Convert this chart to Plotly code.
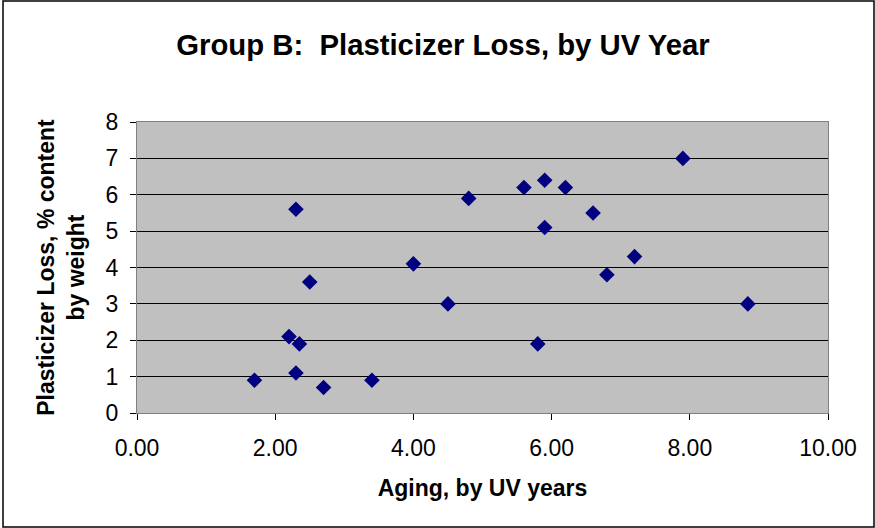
import plotly.graph_objects as go

# Data
aging_years = [1.7, 2.2, 2.3, 2.3, 2.35, 2.5, 2.7, 3.4, 4.0, 4.5, 4.8,
               5.6, 5.8, 5.9, 5.9, 6.2, 6.6, 6.8, 7.2, 7.9, 8.84]
plasticizer_loss = [0.9, 2.1, 5.6, 1.1, 1.9, 3.6, 0.7, 0.9, 4.1, 3.0, 5.9,
                    6.2, 1.9, 6.4, 5.1, 6.2, 5.5, 3.8, 4.3, 7.0, 3.0]

x_ticks = [0, 2, 4, 6, 8, 10]
y_ticks = [0, 1, 2, 3, 4, 5, 6, 7, 8]

W, H = 875, 528
ML, MR, MT, MB = 137, 47, 122, 115
pw, ph = W - ML - MR, H - MT - MB

fig = go.Figure()
fig.add_trace(go.Scatter(
    x=aging_years, y=plasticizer_loss, mode="markers",
    marker=dict(symbol="diamond", size=12, color="#000080",
                line=dict(width=0)),
    showlegend=False,
))

font_family = "Liberation Sans, Arial, sans-serif"

fig.update_layout(
    width=W, height=H,
    margin=dict(l=ML, r=MR, t=MT, b=MB, autoexpand=False),
    paper_bgcolor="white",
    plot_bgcolor="#C0C0C0",
    font=dict(family=font_family, color="black", size=23),
    title=dict(text="<b>Group B:  Plasticizer Loss, by UV Year</b>",
               x=443 / W, xanchor="center", y=1 - 45 / H, yanchor="middle",
               font=dict(size=29.3, family=font_family)),
    xaxis=dict(range=[0, 10], tickvals=x_ticks, tickformat=".2f",
               showgrid=False, zeroline=False,
               showline=True, linecolor="#808080", linewidth=1, mirror=True,
               ticks="outside", ticklen=6, tickcolor="black",
               tickfont=dict(size=23), ticklabelstandoff=8,
               title=dict(text="<b>Aging, by UV years</b>", standoff=20,
                          font=dict(size=23))),
    yaxis=dict(range=[0, 8], tickvals=y_ticks,
               showgrid=True, gridcolor="black", gridwidth=1, zeroline=False,
               showline=True, linecolor="#808080", linewidth=1, mirror=True,
               ticks="outside", ticklen=6, tickcolor="black",
               tickfont=dict(size=23), ticklabelstandoff=7,
               title=dict(text="<b>Plasticizer Loss, % content<br>by weight</b>",
                          standoff=14, font=dict(size=23))),
    shapes=[dict(type="rect", xref="paper", yref="paper",
                 x0=(3 - ML) / pw, x1=(874 - ML) / pw,
                 y0=(H - MB - 527) / ph, y1=(H - MB - 1) / ph,
                 line=dict(color="black", width=1.5), fillcolor="rgba(0,0,0,0)")],
)

fig.write_html("out.html", config={"displayModeBar": False},
               post_script="document.body.style.margin='0';document.body.style.overflow='hidden';")
